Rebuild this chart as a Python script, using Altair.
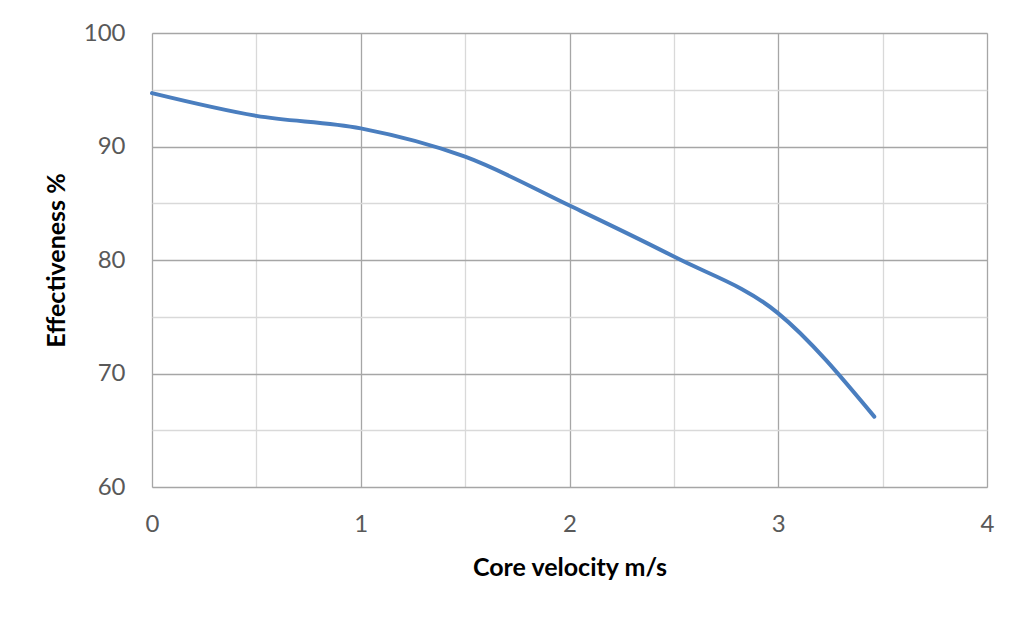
import altair as alt
import pandas as pd

velocity = [0.0, 0.5, 1.0, 1.5, 2.0, 2.5, 3.0, 3.46]
effectiveness = [94.7, 92.7, 91.6, 89.1, 84.8, 80.3, 75.3, 66.2]

x_grid = [0, 0.5, 1, 1.5, 2, 2.5, 3, 3.5, 4]
y_grid = [60, 65, 70, 75, 80, 85, 90, 95, 100]

df = pd.DataFrame({"v": velocity, "e": effectiveness})

FONT = "Lato"

x_axis = alt.Axis(
    values=x_grid,
    labelExpr="datum.value % 1 === 0 ? format(datum.value, 'd') : ''",
    labelFlush=False,
    grid=True,
    gridColor={"condition": {"test": "datum.value % 1 === 0", "value": "#a6a6a6"}, "value": "#d9d9d9"},
    gridWidth=1.3,
    ticks=False,
    domain=False,
    labelFontSize=24,
    labelColor="#595959",
    labelPadding=25,
    labelFont=FONT,
    title="Core velocity m/s",
    titleFontSize=25,
    titleFont=FONT,
    titleFontWeight="bold",
    titleColor="#000000",
    titlePadding=19,
)

y_axis = alt.Axis(
    values=y_grid,
    labelExpr="datum.value % 10 === 0 ? format(datum.value, 'd') : ''",
    grid=True,
    gridColor={"condition": {"test": "datum.value % 10 === 0", "value": "#a6a6a6"}, "value": "#d9d9d9"},
    gridWidth=1.3,
    ticks=False,
    domain=False,
    labelFontSize=24,
    labelColor="#595959",
    labelPadding=27,
    labelFont=FONT,
    title="Effectiveness %",
    titleFontSize=25,
    titleFont=FONT,
    titleFontWeight="bold",
    titleColor="#000000",
    titlePadding=14,
)

chart = (
    alt.Chart(df)
    .mark_line(interpolate="monotone", color="#4A7EBF", strokeWidth=4, strokeCap="round")
    .encode(
        x=alt.X("v:Q", scale=alt.Scale(domain=[0, 4], nice=False, zero=False), axis=x_axis),
        y=alt.Y("e:Q", scale=alt.Scale(domain=[60, 100], nice=False, zero=False), axis=y_axis),
    )
    .properties(
        width=835,
        height=454,
        autosize=alt.AutoSizeParams(type="none"),
        padding={"left": 144, "top": 25, "right": 29, "bottom": 120},
    )
    .configure_view(stroke="#a6a6a6", strokeWidth=1.3)
    .configure(background="#ffffff")
)

chart.save("out.html", embed_options={"renderer": "svg", "actions": False})
